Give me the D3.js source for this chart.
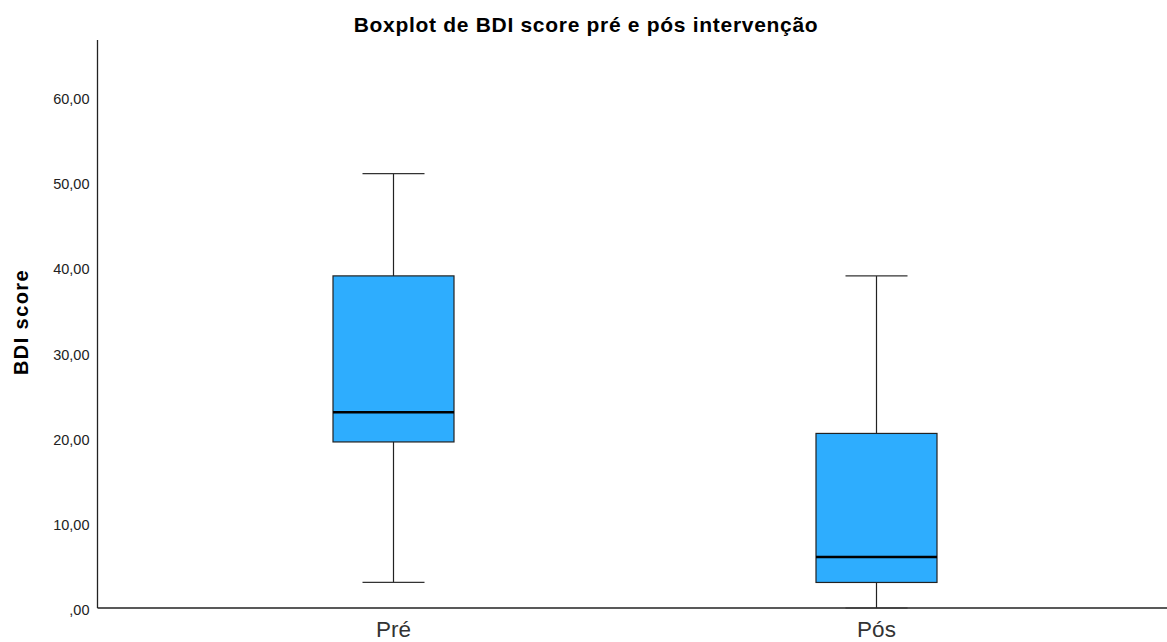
<!DOCTYPE html>
<html>
<head>
<meta charset="utf-8">
<script src="https://cdn.jsdelivr.net/npm/d3@7"></script>
<style>
  body { margin: 0; background: #fff; }
  text { font-family: "Liberation Sans", Arial, sans-serif; }
</style>
</head>
<body>
<div id="chart-area"></div>
<script>
// data
var groups = ["Pré", "Pós"];
var whiskerLow = [3, 0];
var q1 = [19.5, 3];
var medians = [23, 6];
var q3 = [39, 20.5];
var whiskerHigh = [51, 39];
var yTicks = [0, 10, 20, 30, 40, 50, 60];

var data = groups.map(function(g, i) {
    return { group: g, lo: whiskerLow[i], q1: q1[i], med: medians[i], q3: q3[i], hi: whiskerHigh[i] };
});

var W = 1167, H = 642;
var margin = { left: 97.5, right: 0, top: 40, bottom: 34 };
var width = W - margin.left - margin.right,
    height = H - margin.top - margin.bottom;

var svg = d3.select("#chart-area")
    .append("svg")
        .attr("width", W)
        .attr("height", H);

var g = svg.append("g")
    .attr("transform", "translate(" + margin.left + "," + margin.top + ")");

// Title
svg.append("text")
    .attr("x", 586)
    .attr("y", 32)
    .attr("text-anchor", "middle")
    .attr("font-size", "21px")
    .attr("font-weight", "bold")
    .attr("letter-spacing", "0.7px")
    .attr("fill", "#000")
    .text("Boxplot de BDI score pré e pós intervenção");

// Y label
svg.append("text")
    .attr("transform", "translate(27.5,322) rotate(-90)")
    .attr("text-anchor", "middle")
    .attr("font-size", "20px")
    .attr("font-weight", "bold")
    .attr("letter-spacing", "1.4px")
    .text("BDI score");

// scales
var y = d3.scaleLinear()
    .domain([0, 66.7])
    .range([height, 0]);

var x = d3.scaleBand()
    .domain(groups)
    .range([152 - margin.left, 1118 - margin.left]);

var boxW = 121, capW = 62;

// Y axis
var yAxis = g.append("g")
    .call(d3.axisLeft(y)
        .tickValues(yTicks)
        .tickSize(0)
        .tickPadding(8)
        .tickFormat(function(d) { return d === 0 ? ",00" : d + ",00"; }));
yAxis.select(".domain").remove();
yAxis.selectAll("text")
    .attr("font-size", "14.5px")
    .attr("fill", "#222")
    .attr("dy", "0.45em");

// X axis
var xAxis = g.append("g")
    .attr("transform", "translate(0," + height + ")")
    .call(d3.axisBottom(x).tickSize(0).tickPadding(13));
xAxis.select(".domain").remove();
xAxis.selectAll("text")
    .attr("font-size", "22.5px")
    .attr("fill", "#333");

// axis lines
g.append("line")
    .attr("x1", 0).attr("x2", 0)
    .attr("y1", 0).attr("y2", height)
    .attr("stroke", "#222").attr("stroke-width", 1.3);
g.append("line")
    .attr("x1", 0).attr("x2", width)
    .attr("y1", height).attr("y2", height)
    .attr("stroke", "#222").attr("stroke-width", 1.3);

// boxes
var boxes = g.selectAll(".box")
    .data(data)
    .enter()
    .append("g")
        .attr("class", "box")
        .attr("transform", function(d) { return "translate(" + (x(d.group) + x.bandwidth() / 2) + ",0)"; });

boxes.append("line")
    .attr("x1", 0).attr("x2", 0)
    .attr("y1", d => y(d.hi))
    .attr("y2", d => y(d.lo))
    .attr("stroke", "#222")
    .attr("stroke-width", 1.2);

boxes.append("line")
    .attr("x1", -capW / 2).attr("x2", capW / 2)
    .attr("y1", d => y(d.hi)).attr("y2", d => y(d.hi))
    .attr("stroke", "#333").attr("stroke-width", 1.2);

boxes.append("line")
    .attr("x1", -capW / 2).attr("x2", capW / 2)
    .attr("y1", d => y(d.lo)).attr("y2", d => y(d.lo))
    .attr("stroke", "#333").attr("stroke-width", 1.2);

boxes.append("rect")
    .attr("x", -boxW / 2)
    .attr("width", boxW)
    .attr("y", d => y(d.q3))
    .attr("height", d => y(d.q1) - y(d.q3))
    .attr("fill", "#2eadfe")
    .attr("stroke", "#222")
    .attr("stroke-width", 1.2);

boxes.append("line")
    .attr("x1", -boxW / 2).attr("x2", boxW / 2)
    .attr("y1", d => y(d.med)).attr("y2", d => y(d.med))
    .attr("stroke", "#000")
    .attr("stroke-width", 2.5);
</script>
</body>
</html>
